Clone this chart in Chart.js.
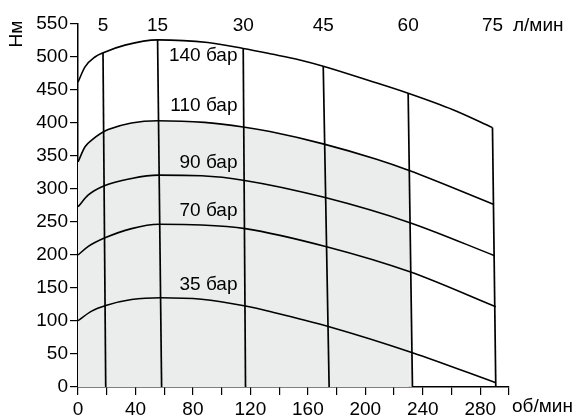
<!DOCTYPE html>
<html>
<head>
<meta charset="utf-8">
<script src="https://cdn.jsdelivr.net/npm/chart.js@4.4.0/dist/chart.umd.min.js"></script>
<style>
  html, body { margin: 0; padding: 0; background: #fff; }
</style>
</head>
<body>
<canvas id="torqueChart" width="581" height="417"></canvas>
<script>
// pressure curves: torque (Нм) vs speed (об/мин)
const pressureLabels = ["140 бар", "110 бар", "90 бар", "70 бар", "35 бар"];

const rpm140 = [0, 4.9, 11.8, 17.6, 32.7, 55.4, 90.4, 115, 134.7, 154.4, 170.7, 203, 229.8, 261, 288.5];
const torque140 = [462, 485, 500, 506.5, 518, 526, 522, 513, 504.5, 495.5, 486, 464, 445, 420, 393];

const rpm110 = [0, 4.9, 9.5, 21, 55.4, 88, 115, 133.6, 171.3, 207.8, 230.5, 289];
const torque110 = [341, 364, 374, 390, 403.5, 401, 394, 387, 368, 345, 328, 277];

const rpm90 = [0, 7.2, 18.3, 37.3, 55.9, 86, 116, 172, 231, 290];
const torque90 = [273, 291, 305, 316, 321, 320, 313, 287, 249, 199];

const rpm70 = [0, 7.2, 18.8, 37.3, 56.3, 86, 116.4, 173, 231, 290.8];
const torque70 = [200, 213, 226, 240, 246.5, 245.5, 240, 212.5, 174.5, 121.5];

const rpm35 = [0, 9.5, 19.3, 37.3, 57.7, 86, 116.6, 137, 174.8, 232.8, 290.8];
const torque35 = [100.5, 115, 123.5, 132.5, 135.3, 133, 122.7, 112.6, 91.4, 52, 6.5];

// flow lines (л/мин), slightly slanted
const flowLabels = ["5", "15", "30", "45", "60", "75"];
const flowRpmBottom = [19.3, 58.2, 116.6, 174.8, 232.8, 290.8];
const flowRpmTop = [17.4, 55.4, 115, 170.7, 229.8, 288.5];
const flowTorqueTop = [506.5, 526, 513, 486, 445, 393];

// shaded zone: under 110 bar up to the 60 л/мин line
const shadeFlowIndex = 4;

const xTicksMax = 300;
const yTicksMax = 550;

// where the curve names sit
const labelRpm = 111;
const labelTorque = [501.5, 426, 339, 267, 155];

const FONT = '"Liberation Sans", Arial, sans-serif';
const FONT_SIZE = 19;
Chart.defaults.font.family = FONT;
Chart.defaults.font.size = FONT_SIZE;
Chart.defaults.color = "#000";

function pts(xs, ys) {
   return xs.map((v, i) => ({ x: v, y: ys[i] }));
}

const curveSets = [
   pts(rpm140, torque140),
   pts(rpm110, torque110),
   pts(rpm90, torque90),
   pts(rpm70, torque70),
   pts(rpm35, torque35)
];

const datasets = [];

// gray fill under the 110 bar curve
const shadeEnd = 230.5;
datasets.push({
   data: curveSets[1].filter(p => p.x <= shadeEnd),
   borderWidth: 0,
   pointRadius: 0,
   cubicInterpolationMode: "monotone",
   backgroundColor: "#ebecec",
   fill: "origin",
   order: 10
});
datasets.push({
   data: [
      { x: shadeEnd, y: torque110[rpm110.indexOf(shadeEnd)] },
      { x: flowRpmBottom[shadeFlowIndex], y: 0 }
   ],
   borderWidth: 0,
   pointRadius: 0,
   tension: 0,
   backgroundColor: "#ebecec",
   fill: "origin",
   order: 10
});

curveSets.forEach(set => {
   datasets.push({
      data: set,
      borderColor: "#000",
      borderWidth: 1.6,
      pointRadius: 0,
      cubicInterpolationMode: "monotone",
      fill: false,
      order: 1
   });
});

flowLabels.forEach((lab, i) => {
   datasets.push({
      data: [
         { x: flowRpmBottom[i], y: 0 },
         { x: flowRpmTop[i], y: flowTorqueTop[i] }
      ],
      borderColor: "#000",
      borderWidth: 1.7,
      pointRadius: 0,
      tension: 0,
      fill: false,
      order: 1
   });
});

// texts on the plot
const textPlugin = {
   id: "chartText",
   afterDatasetsDraw(chart) {
      const { ctx, scales: { x, y } } = chart;
      ctx.save();
      ctx.fillStyle = "#000";
      ctx.font = FONT_SIZE + "px " + FONT;
      ctx.textBaseline = "middle";

      ctx.textAlign = "right";
      pressureLabels.forEach((t, i) => {
         ctx.fillText(t, x.getPixelForValue(labelRpm), y.getPixelForValue(labelTorque[i]));
      });

      const topY = y.getPixelForValue(yTicksMax) + 2;
      ctx.textAlign = "center";
      flowLabels.forEach((t, i) => {
         ctx.fillText(t, x.getPixelForValue(flowRpmTop[i]), topY);
      });

      ctx.textAlign = "left";
      ctx.fillText("л/мин", x.right + 4, topY);
      ctx.fillText("об/мин", x.right + 3, chart.chartArea.bottom + 20);

      // y axis name, rotated, at the top
      ctx.translate(17, topY + 8);
      ctx.rotate(-Math.PI / 2);
      ctx.textAlign = "center";
      ctx.fillText("Нм", 0, 0);
      ctx.restore();
   }
};

const ctx = document.getElementById("torqueChart").getContext("2d");
const torqueChart = new Chart(ctx, {
   type: "line",
   data: { datasets: datasets },
   options: {
      responsive: false,
      animation: false,
      layout: {
         padding: { left: 0, right: 72, top: 24, bottom: 0 }
      },
      plugins: {
         legend: { display: false },
         tooltip: { enabled: false }
      },
      scales: {
         x: {
            type: "linear",
            min: 0,
            max: xTicksMax,
            afterFit(scale) { scale.height = 30; },
            border: { color: "#000", width: 1.5 },
            grid: { drawOnChartArea: false, color: "#000", tickLength: 8, lineWidth: 1.2 },
            ticks: {
               stepSize: 20,
               autoSkip: false,
               maxRotation: 0,
               padding: 3,
               callback: v => (v % 40 === 0 ? v : "")
            }
         },
         y: {
            min: 0,
            max: yTicksMax,
            afterFit(scale) { scale.width = 78; },
            border: { color: "#000", width: 1.5 },
            grid: { drawOnChartArea: false, color: "#000", tickLength: 8, lineWidth: 1.2 },
            ticks: { stepSize: 50, padding: 2 }
         }
      }
   },
   plugins: [textPlugin]
});
</script>
</body>
</html>
